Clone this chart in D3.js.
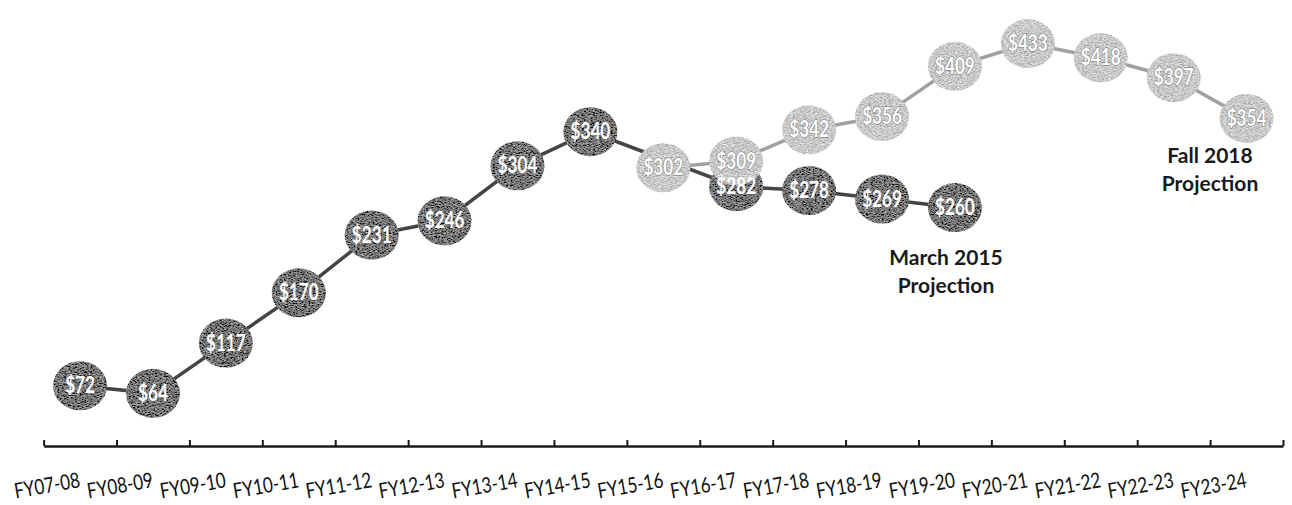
<!DOCTYPE html>
<html>
<head>
<meta charset="utf-8">
<script src="https://cdn.jsdelivr.net/npm/d3@7"></script>
<style>
  html, body { margin: 0; padding: 0; background: #fff; }
  svg { display: block; }
</style>
</head>
<body>
<svg id="chart" width="1292" height="505"></svg>
<script>
const categories = ["FY07-08","FY08-09","FY09-10","FY10-11","FY11-12","FY12-13","FY13-14","FY14-15",
  "FY15-16","FY16-17","FY17-18","FY18-19","FY19-20","FY20-21","FY21-22","FY22-23","FY23-24"];
// March 2015 projection (FY15-16 hidden beneath the Fall 2018 marker)
const march2015 = [72, 64, 117, 170, 231, 246, 304, 340, null, 282, 278, 269, 260, null, null, null, null];
// Fall 2018 projection
const fall2018 = [null, null, null, null, null, null, null, null, 302, 309, 342, 356, 409, 433, 418, 397, 354];
const seriesNames = ["March 2015", "Fall 2018"];
const legendLines = [["March 2015", "Projection"], ["Fall 2018", "Projection"]];

const svg = d3.select("#chart");
const x = d3.scaleBand().domain(categories).range([43.6, 1283]).padding(0);
const xb = d3.scaleLinear().domain([0, categories.length]).range([43.6, 1283]);
const y = d3.scaleLinear().domain([0, 460]).range([454, 18]);
const cx = c => x(c) + x.bandwidth() / 2;

// axis
const axisY = 446;
const axis = d3.axisBottom(xb).tickValues(d3.range(categories.length + 1))
  .tickSizeInner(-6).tickSizeOuter(0).tickFormat("");
const ag = svg.append("g").attr("transform", `translate(0,${axisY})`).call(axis);
ag.select(".domain").attr("stroke", "#1a1a1a").attr("stroke-width", 2.6);
ag.selectAll(".tick line").attr("stroke", "#1a1a1a").attr("stroke-width", 2);

svg.append("g").selectAll("text").data(categories).join("text")
  .attr("transform", d => `translate(${cx(d) + 1},${axisY + 41}) rotate(-10) scale(0.9,1.12)`)
  .attr("text-anchor", "end")
  .attr("font-family", "Lato, 'Open Sans', sans-serif")
  .attr("font-size", 19)
  .attr("fill", "#111")
  .text(d => d);

// scanned-looking textures
const defs = svg.append("defs");
function noiseFilter(id, base, amp) {
  const f = defs.append("filter").attr("id", id).attr("x", "-10%").attr("y", "-10%").attr("width", "120%").attr("height", "120%");
  f.append("feTurbulence").attr("type", "fractalNoise").attr("baseFrequency", "0.45 1.1").attr("numOctaves", 2).attr("seed", 5).attr("result", "n");
  f.append("feColorMatrix").attr("in", "n").attr("type", "matrix")
    .attr("values", `0 0 0 ${amp} ${base}  0 0 0 ${amp} ${base}  0 0 0 ${amp} ${base}  0 0 0 0 1`).attr("result", "g");
  f.append("feComposite").attr("in", "g").attr("in2", "SourceGraphic").attr("operator", "in");
}
noiseFilter("nDark", -0.27, 0.9);
noiseFilter("nLight", 0.16, 0.85);

const line = d3.line().x(d => cx(d.c)).y(d => y(d.v));
function pts(arr) { return categories.map((c, i) => ({ c, v: arr[i] })).filter(d => d.v != null); }

const series = [
  { name: seriesNames[0], data: pts(march2015), stroke: "#444", filter: "url(#nDark)" },
  { name: seriesNames[1], data: pts(fall2018), stroke: "#a0a0a0", filter: "url(#nLight)" }
];

series.forEach(s => {
  const g = svg.append("g");
  g.append("path").datum(s.data).attr("d", line)
    .attr("fill", "none").attr("stroke", s.stroke).attr("stroke-width", 3.5);
  g.selectAll("ellipse").data(s.data).join("ellipse")
    .attr("cx", d => cx(d.c)).attr("cy", d => y(d.v))
    .attr("rx", 27).attr("ry", 24.5)
    .attr("fill", "#888")
    .attr("filter", s.filter);
});

// data labels on top
series.forEach((s, si) => {
  svg.append("g").selectAll("text").data(s.data).join("text")
    .attr("transform", d => `translate(${cx(d.c)},${y(d.v) + 7.5}) scale(0.88,1.15)`)
    .attr("text-anchor", "middle")
    .attr("font-family", "Lato, 'DejaVu Sans Condensed', sans-serif")
    .attr("font-weight", "bold")
    .attr("font-size", 19.5)
    .attr("fill", "#fff")
    .attr("stroke", si === 0 ? "none" : "#6e6e6e")
    .attr("stroke-width", si === 0 ? 0 : 0.9)
    .attr("paint-order", "stroke")
    .text(d => "$" + d.v);
});

// series name annotations
const legendPos = [{ x: 946, y: 265 }, { x: 1210, y: 163 }];
legendLines.forEach((lines, i) => {
  const t = svg.append("text")
    .attr("text-anchor", "middle")
    .attr("font-family", "Lato, 'Open Sans', sans-serif")
    .attr("font-weight", "bold")
    .attr("font-size", 21)
    .attr("fill", "#1a1a1a");
  lines.forEach((l, j) => t.append("tspan").attr("x", legendPos[i].x).attr("y", legendPos[i].y + j * 28).text(l));
});
</script>
</body>
</html>
